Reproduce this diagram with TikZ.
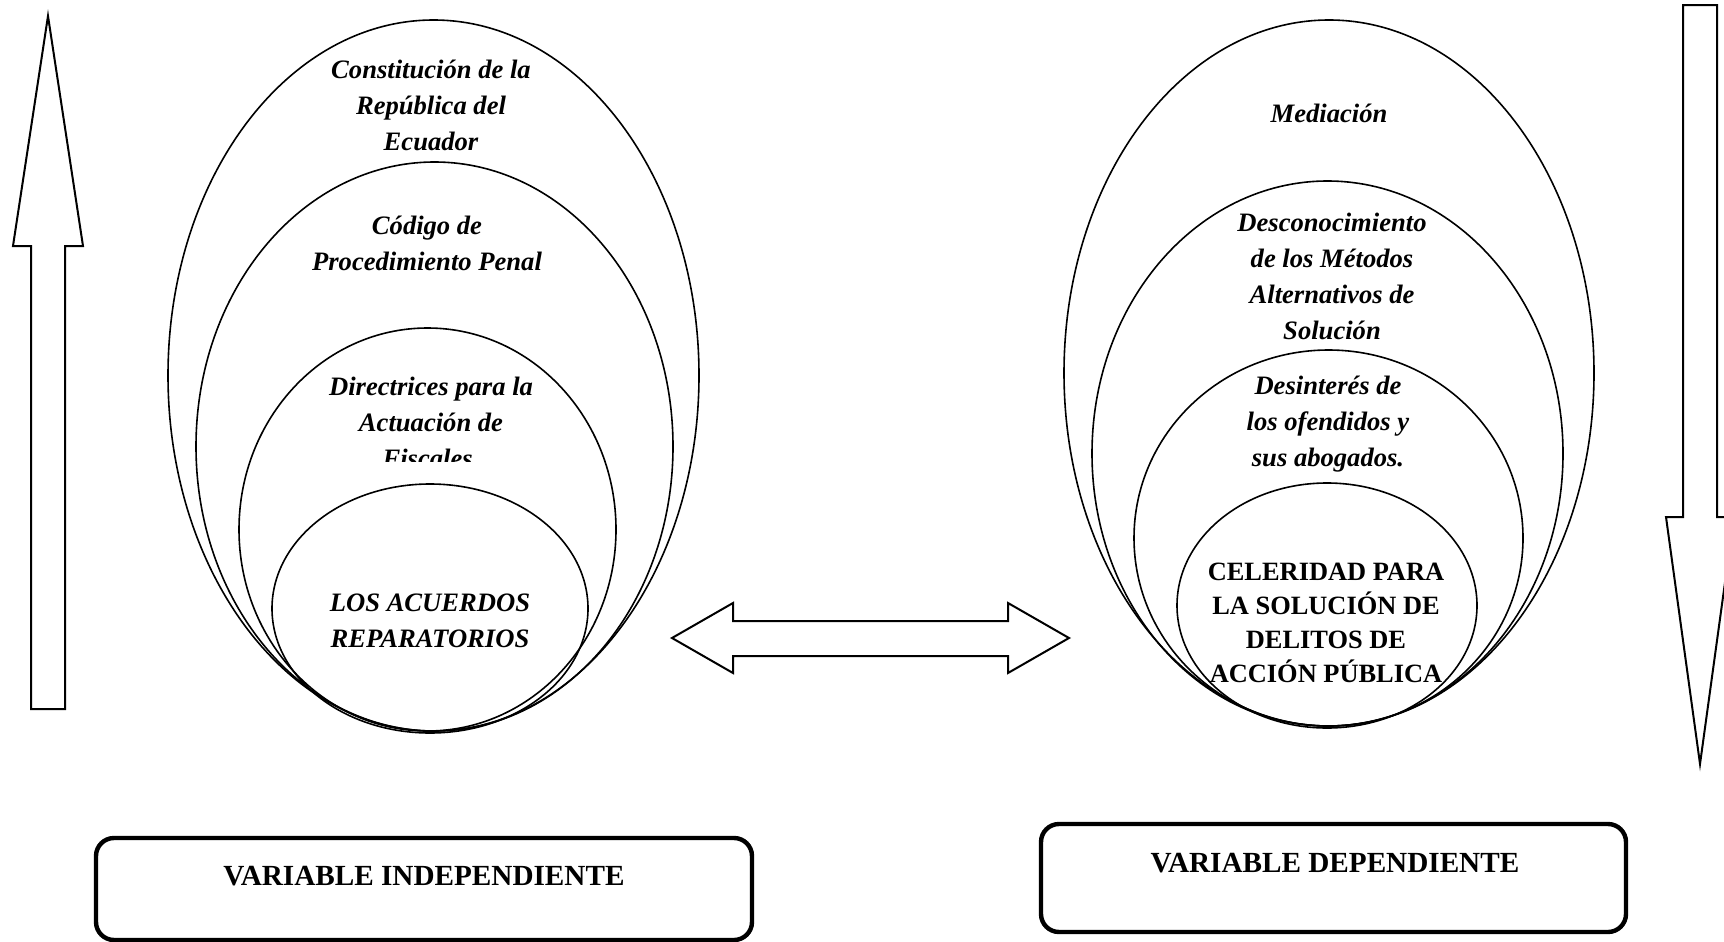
\documentclass[tikz,border=0pt]{standalone}
\usepackage{fontspec}
\setmainfont{Liberation Serif}
\usepackage{tikz}

\begin{document}
\begin{tikzpicture}[x=0.5pt,y=-0.5pt,
    ring/.style={line width=0.8pt},
    flecha/.style={line width=1pt, line join=miter},
    caja/.style={line width=2.2pt, rounded corners=9pt},
    cursiva/.style={align=center, inner sep=0pt, font=\fontsize{13.3}{18}\selectfont\bfseries\itshape},
    recta/.style={align=center, inner sep=0pt, font=\fontsize{13.2}{17}\selectfont\bfseries},
    titulo/.style={inner sep=0pt, font=\fontsize{14.6}{17}\selectfont\bfseries}]
  \useasboundingbox (0,0) rectangle (1724,942);

  % flechas de bloque
  \draw[flecha] (31,709) -- (31,246) -- (13,246) -- (48,16) -- (83,246) -- (65,246) -- (65,709) -- cycle;
  \draw[flecha] (1683,5) -- (1683,517) -- (1666,517) -- (1700,764) -- (1734,517) -- (1717,517) -- (1717,5) -- cycle;
  \draw[flecha] (672,638) -- (733,603) -- (733,621) -- (1008,621) -- (1008,603) -- (1069,638)
    -- (1008,673) -- (1008,656) -- (733,656) -- (733,673) -- cycle;

  % variable independiente
  \draw[ring] (433.5,375.5) ellipse [x radius=265.5, y radius=355.5];
  \draw[ring] (434.5,446.5) ellipse [x radius=238.5, y radius=284.5];
  \draw[ring] (427.5,529.5) ellipse [x radius=188.5, y radius=201.5];
  \draw[ring] (430,608.5) ellipse [x radius=158, y radius=124.5];
  \node[cursiva] (constitucion) at (431,105) {Constitución de la\\ República del\\ Ecuador};
  \node[cursiva] (codigo) at (427,243) {Código de\\ Procedimiento Penal};
  \begin{scope}
    \clip (240,340) rectangle (620,461);
    \node[cursiva] (directrices) at (431,422) {Directrices para la\\ Actuación de\\ Fiscales.};
  \end{scope}
  \node[cursiva] (acuerdos) at (430,621) {LOS ACUERDOS\\ REPARATORIOS};

  % variable dependiente
  \draw[ring] (1329,373) ellipse [x radius=265, y radius=353];
  \draw[ring] (1327.5,453.5) ellipse [x radius=235.5, y radius=272.5];
  \draw[ring] (1328.5,538) ellipse [x radius=194.5, y radius=188];
  \draw[ring] (1327,605.5) ellipse [x radius=150, y radius=122.5];
  \node[cursiva] (mediacion) at (1329,113) {Mediación};
  \node[cursiva] (desconocimiento) at (1332,276) {Desconocimiento\\ de los Métodos\\ Alternativos de\\ Solución};
  \node[cursiva] (desinteres) at (1328,424) {Desinterés de\\ los ofendidos y\\ sus abogados.};
  \node[recta] (celeridad) at (1326,623) {CELERIDAD PARA\\ LA SOLUCIÓN DE\\ DELITOS DE\\ ACCIÓN PÚBLICA};

  % cuadros de las variables
  \draw[caja] (96,838) rectangle (752,940);
  \node[titulo] (independiente) at (424,876) {VARIABLE INDEPENDIENTE};
  \draw[caja] (1041,824) rectangle (1626,932);
  \node[titulo] (dependiente) at (1335,863) {VARIABLE DEPENDIENTE};
\end{tikzpicture}
\end{document}
